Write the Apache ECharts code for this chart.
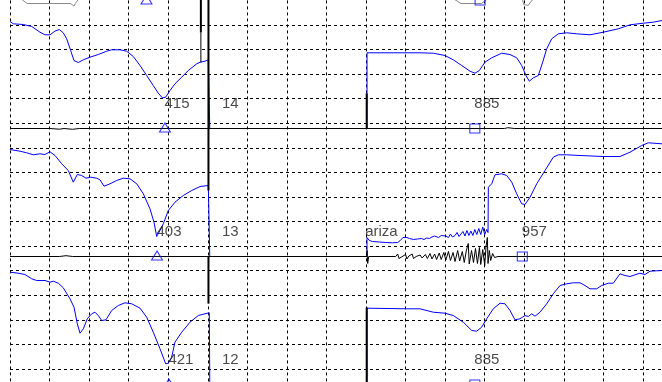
<!DOCTYPE html>
<html><head><meta charset="utf-8">
<script src="https://cdn.jsdelivr.net/npm/echarts@6/dist/echarts.min.js"></script>
<style>html,body{margin:0;padding:0;background:#fff}#c{width:662px;height:382px}</style>
</head><body><div id="c"></div>
<script>
// ---- time axis (ms), 60 ms per division ----
const timeMin = 180, timeMax = 1200, timeStep = 60;
const divMin = 0, divMax = 16, divStep = 1;

// ---- blue traces (time ms, height above channel baseline) ----
const ch1Blue = [[180,107],[185,104.7],[200,104],[213,102],[225.5,96.3],[233,93.7],[240.7,93.7],[248,97.3],[254.8,99],[260.8,95.7],[266,89.7],[272,78],[277,68],[283.6,66],[291.2,68.7],[301.3,71.3],[313.9,74],[326.7,77.3],[334.2,78.7],[346.8,78.7],[357,77.3],[367,72],[377.2,63],[387.3,53],[397.3,43],[404.9,35.3],[411,30.7],[416.1,31.3],[422.7,38],[430.2,44.7],[440.4,51.3],[450.4,58],[463.2,64.7],[468.2,66.3],[475.8,67.3],[480.8,68.7],[483,69],[483,0],[721.5,0],[721.5,75.7],[801.8,75.7],[822,75.3],[839.8,73],[852.3,68.7],[865.1,63],[877.7,57.3],[885.3,55.3],[891.8,58],[900.4,66.3],[910.6,70.7],[925.8,75.3],[938.3,74],[948.5,70.7],[956.1,63],[962.6,53],[967.6,47.3],[973.7,50.7],[981.3,53],[987.9,66.3],[994,79.7],[1001.6,89.7],[1011.6,94.7],[1024.3,95.7],[1039.5,94.7],[1059.7,93.7],[1079.9,96.3],[1102.6,99.7],[1120.4,103.7],[1140.5,105.3],[1155.7,106.3],[1168.9,108],[1185,108.5]];

const ch2Blue = [[180,107],[195.2,105.3],[205.3,103.7],[215.3,101.7],[225.5,102.7],[233,102],[240.7,104.7],[248.3,101],[258.4,92.7],[268.4,86],[276,74.3],[282.1,82],[288.7,81],[295.3,78.3],[302.4,79.3],[311.5,78.3],[316.5,76.7],[322.6,70.3],[331.7,72.7],[341.8,76],[351.8,78.3],[362,77.7],[372.2,72.7],[382.2,62.7],[392.3,47.7],[398.4,34.3],[402.5,20],[407.5,26],[412.5,32.7],[420.1,46],[430.2,54.3],[442.8,61],[455.6,66],[468.2,70],[480.8,71],[483,71.3],[483,0],[721.5,0],[721.5,19],[725,16],[730,15],[740,14.5],[750,14],[760,13.7],[768,14],[772,16],[776,19],[779,21],[782,19],[786,18],[792,17],[798,17.5],[804,18],[808,17],[812,18.5],[816,18],[820,19.5],[824,20.5],[827,18.5],[830,19],[834,21],[837,19],[841,20.5],[845,19],[848,22.5],[851,19.5],[855,21],[858,24],[861,20],[864,22],[867,25],[870,20.5],[873,26],[876,21],[879,25.5],[882,21],[885,27],[888,22],[891,28],[894,22],[897,29.5],[900,22],[903,27],[905,24],[905.5,69.3],[910.6,72.7],[915.6,81.7],[925.8,82.7],[933.4,81],[941,74.3],[948.5,62.7],[956.1,52.7],[961.1,52],[968.7,59.3],[978.9,72.7],[991.4,86],[1004,99.3],[1011.6,101.7],[1024.3,101.7],[1044.5,101],[1079.9,100],[1105.2,100],[1120.4,104.3],[1138.1,111],[1148.1,113.7],[1168.9,112.7],[1185,113]];

const ch3Blue = [[180,112.3],[192.6,111.3],[202.7,110],[212.9,105.7],[220.5,104],[233.1,104],[240.7,102.3],[245.7,103.3],[253.3,101.3],[260.8,96.7],[271,85.7],[277.1,77.3],[282.1,60.7],[286.2,51.3],[291.2,55.7],[297.2,65.7],[303.9,70.7],[308.9,72.3],[313.9,69],[319.1,64],[325.6,64.7],[334.2,74],[344.3,79],[354.4,81.7],[364.6,80.7],[377.2,76.3],[387.3,67.3],[397.3,52.3],[407.5,35.7],[416.1,20.7],[420.1,21.3],[425.2,27.3],[430.2,42.3],[440.4,52.3],[453,62.3],[465.6,69],[475.8,70.7],[482.3,71.7],[483,72],[483,0],[721.5,0],[721.5,76.3],[781.5,75.7],[801.8,75.7],[822,72.3],[839.8,71.3],[852.3,69],[867.5,62.3],[880.3,54],[887.8,53.3],[895.4,57.3],[903,65.7],[913,75.7],[923.2,81.3],[930.8,80.7],[938.3,74],[945.9,64.7],[953.5,65.7],[961.1,69],[966.1,68],[971.3,70.7],[976.3,68.3],[983.9,72.3],[994,80.7],[1004,90.7],[1014.2,99],[1024.3,100.7],[1034.4,101.7],[1044.5,101.7],[1052.1,99],[1059.7,95.7],[1069.8,95.7],[1077.4,99],[1087.4,101.3],[1095,101.3],[1105.2,110.7],[1112.7,109],[1120.4,108],[1127.9,109.7],[1135.5,111.3],[1143.1,110],[1150.7,113.3],[1168.9,114],[1185,114]];

// ---- black traces ----
const ch0Black = [[180,3],[196,2],[206,-3],[272,-3],[277,-5.5],[279,-3],[286,3],[852,2],[864,-3],[895,-3],[905,2],[957,2],[959,-4],[962,-2],[966,-5],[970,-1],[975,2],[1200,3]];
const ch1Black = [[180,0],[240,0],[255,-0.7],[262,0],[275,-0.8],[285,0],[481,0],[721,0],[930,0],[935,0.8],[945,0],[1200,0]];
const ch2Black = [[180,0],[255,0],[265,0.8],[275,0],[721,0],[721.5,6],[722.5,-7],[724,0],[765,0],[768,2.5],[770,-2],[773,0],[780,2],[782,-2.5],[785,0.5],[790,2.5],[792,-2],[796,0],[802,1.5],[805,-1.5],[810,2],[813,-2],[817,3],[820,-2.5],[824,2.5],[827,-3],[831,3.5],[834,-3],[838,4],[841,-3.5],[845,5],[848,-4],[852,4],[855,-5],[859,6],[862,-4.5],[866,5],[869,-6],[872,5.5],[875,13],[876.5,-7.5],[880,6],[883,-6],[886,8],[889,-7],[892,9],[894,-8],[897,7],[900,-9],[902,10],[904,19],[905,-7],[907,6],[909,-4],[912,3],[915,-1],[920,0],[1200,0]];

// ---- markers (per channel 0..3) ----
const triangleTimes = [387, 415, 403, 421];
const squareTimes = [893, 885, 957, 885];
const channelNumbers = [null, '14', '13', '12'];
const cursorTimes = [481, 721];
const eventText = 'ariza';
const eventChannel = 2;

// cursor bar extents, on the channel-1 scale: [time, from, to]
const cursorBarsThick = [[481,128.5,-62],[481,-128,-175],[721,35,0],[721,-179,-265],[469.5,128.5,96]];
const cursorBarsThin = [[469.5,96,66]];

// ---- layout ----
const GRID_TOP = 0.4, DIV_PX = 24.57, GRID_H = 16 * DIV_PX;
const PANEL = 128, BASE0 = 0.5;
const FONT = '"Liberation Sans", Arial, sans-serif';
const BLUE = '#0000ff';

function chAxis(k) {
  const max = BASE0 + k * PANEL - GRID_TOP;
  return { type: 'value', min: max - GRID_H, max: max, show: false, gridIndex: 0 };
}
const hidden = { axisLine: { show: false }, axisTick: { show: false }, axisLabel: { show: false } };
const dash = { color: '#000', width: 1, type: [3, 3] };

const series = [];
const blues = [ch1Blue, ch2Blue, ch3Blue];
blues.forEach((d, i) => series.push({
  type: 'line', yAxisIndex: i + 2, data: d, symbol: 'none', smooth: false,
  lineStyle: { color: BLUE, width: 1 }, z: 2
}));
[[ch0Black, 1, '#8a8a8a'], [ch1Black, 2, '#000'], [ch2Black, 3, '#000']].forEach(([d, ax, c]) => series.push({
  type: 'line', yAxisIndex: ax, data: d, symbol: 'none',
  lineStyle: { color: c, width: 1 }, z: 3
}));
cursorBarsThick.forEach(s => series.push({
  type: 'line', yAxisIndex: 2, data: [[s[0], s[1]], [s[0], s[2]]], symbol: 'none',
  lineStyle: { color: '#000', width: 2 }, z: 4
}));
cursorBarsThin.forEach(s => series.push({
  type: 'line', yAxisIndex: 2, data: [[s[0], s[1]], [s[0], s[2]]], symbol: 'none',
  lineStyle: { color: '#000', width: 1 }, z: 4
}));
for (let k = 0; k < 4; k++) {
  series.push({
    type: 'scatter', yAxisIndex: k + 1, z: 5,
    itemStyle: { color: 'rgba(0,0,0,0)', borderColor: BLUE, borderWidth: 1 },
    data: [
      { value: [triangleTimes[k], 0], symbol: 'triangle', symbolSize: [11, 9], symbolOffset: [0, -1] },
      { value: [squareTimes[k], 0], symbol: 'rect', symbolSize: [10, 9] }
    ]
  });
  if (channelNumbers[k]) {
    const items = [
      { value: [triangleTimes[k], 0], name: String(triangleTimes[k]) },
      { value: [squareTimes[k], 0], name: String(squareTimes[k]) },
      { value: [cursorTimes[0], 0], name: channelNumbers[k], label: { offset: [14, 0] } }
    ];
    if (k === eventChannel) items.push({ value: [cursorTimes[1], 0], name: eventText, label: { offset: [-1, 0] } });
    series.push({
      type: 'scatter', yAxisIndex: k + 1, z: 6, symbolSize: 1,
      itemStyle: { color: 'rgba(0,0,0,0)' },
      label: { show: true, formatter: '{b}', position: [0, -24], align: 'left', verticalAlign: 'middle',
        fontSize: 15, color: '#1a1a1a', fontFamily: FONT },
      data: items
    });
  }
}

const chart = echarts.init(document.getElementById('c'), null, { renderer: 'canvas' });
chart.setOption({
  animation: false,
  backgroundColor: '#fff',
  grid: { left: 10, top: GRID_TOP, width: 17 * 39.56, height: GRID_H, containLabel: false, outerBoundsMode: 'none' },
  xAxis: Object.assign({ type: 'value', min: timeMin, max: timeMax, interval: timeStep,
    splitLine: { show: true, lineStyle: dash } }, hidden),
  yAxis: [Object.assign({ type: 'value', min: divMin, max: divMax, interval: divStep,
    splitLine: { show: true, showMaxLine: false, lineStyle: dash } }, hidden),
    chAxis(0), chAxis(1), chAxis(2), chAxis(3)],
  series: series
});
</script></body></html>
